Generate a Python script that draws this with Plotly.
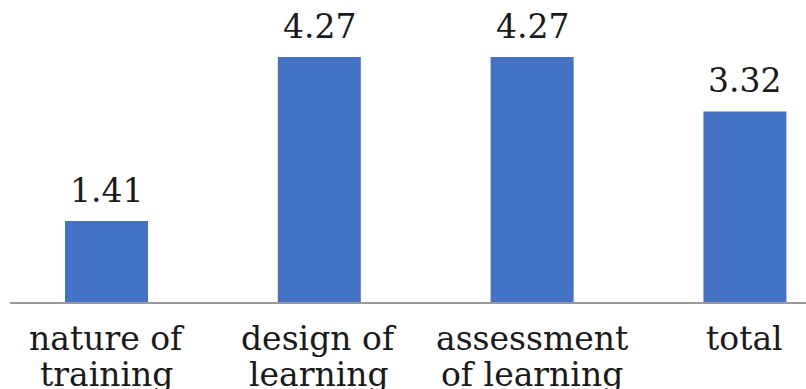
import plotly.graph_objects as go

# Mean scores per dimension
categories = ["nature of training", "design of learning", "assessment of learning", "total"]
label_line1 = ["nature of", "design of", "assessment", "total"]
label_line2 = ["training", "learning", "of learning", ""]
values = [1.41, 4.27, 4.27, 3.32]

BAR_COLOR = "#4472C4"
TEXT_COLOR = "#1a1a1a"
FONT = "DejaVu Serif"

fig = go.Figure(
    go.Bar(
        x=categories,
        y=values,
        marker=dict(color=BAR_COLOR, line=dict(width=0)),
        width=0.39,
        hoverinfo="skip",
    )
)

annotations = []
# value labels above each bar
for cat, val in zip(categories, values):
    annotations.append(dict(
        x=cat, y=val, xref="x", yref="y",
        text=f"{val:.2f}", showarrow=False,
        yanchor="middle", yshift=30.5,
        font=dict(family=FONT, size=33, color=TEXT_COLOR),
    ))
# two-line category labels under the axis
for cat, l1, l2 in zip(categories, label_line1, label_line2):
    for text, shift in ((l1, -36), (l2, -72)):
        if not text:
            continue
        annotations.append(dict(
            x=cat, y=0, xref="x", yref="paper",
            text=text, showarrow=False,
            yanchor="middle", yshift=shift,
            borderpad=0,
            font=dict(family=FONT, size=33, color=TEXT_COLOR),
        ))

fig.update_layout(
    width=806,
    height=389,
    margin=dict(l=10, r=0, t=0, b=86.5),
    paper_bgcolor="white",
    plot_bgcolor="white",
    showlegend=False,
    annotations=annotations,
    xaxis=dict(
        range=[-0.4535, 3.287],
        showticklabels=False,
        ticks="",
        showgrid=False,
        zeroline=False,
        showline=True,
        linecolor="#9a9a9a",
        linewidth=1.5,
    ),
    yaxis=dict(
        range=[0, 5.262],
        visible=False,
        showgrid=False,
        zeroline=False,
    ),
)

fig.write_html("out.html")
